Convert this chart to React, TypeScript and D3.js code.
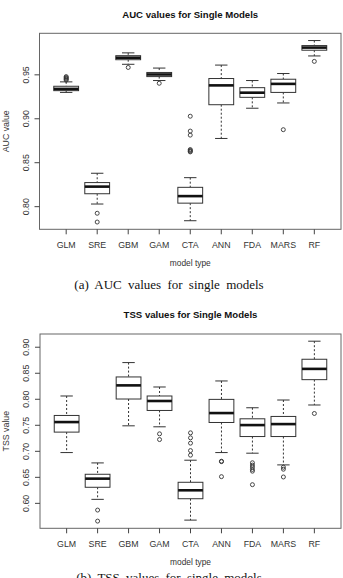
import React from "react";
import * as d3 from "d3";

// model categories (x axis)
const MODELS = ["GLM", "SRE", "GBM", "GAM", "CTA", "ANN", "FDA", "MARS", "RF"];

// AUC box statistics per model
const AUC_LOW = [0.930, 0.803, 0.962, 0.9435, 0.784, 0.8776, 0.912, 0.918, 0.9715];
const AUC_Q1 = [0.932, 0.8147, 0.9672, 0.948, 0.804, 0.916, 0.9244, 0.930, 0.978];
const AUC_MED = [0.934, 0.8228, 0.9695, 0.9504, 0.812, 0.938, 0.9297, 0.9397, 0.981];
const AUC_Q3 = [0.937, 0.8274, 0.9718, 0.9527, 0.822, 0.9458, 0.9354, 0.945, 0.9833];
const AUC_HIGH = [0.942, 0.838, 0.975, 0.9577, 0.833, 0.9611, 0.9435, 0.9515, 0.989];
const AUC_OUT = [
  [0.944, 0.945, 0.946, 0.947, 0.948],
  [0.7925, 0.7825],
  [0.9584],
  [0.9404],
  [0.9029, 0.886, 0.8814, 0.8623, 0.863, 0.864, 0.865],
  [],
  [],
  [0.8876],
  [0.9653],
];
const AUC_TICKS = [0.8, 0.85, 0.9, 0.95];

// TSS box statistics per model
const TSS_LOW = [0.6976, 0.6077, 0.749, 0.7471, 0.5678, 0.6976, 0.6964, 0.6739, 0.789];
const TSS_Q1 = [0.7369, 0.6309, 0.8005, 0.7785, 0.6089, 0.7554, 0.7284, 0.7284, 0.8377];
const TSS_MED = [0.7562, 0.6475, 0.8267, 0.7967, 0.6251, 0.7735, 0.7504, 0.7523, 0.8584];
const TSS_Q3 = [0.7689, 0.6559, 0.8429, 0.8063, 0.6405, 0.7998, 0.7625, 0.767, 0.8769];
const TSS_HIGH = [0.8063, 0.6777, 0.8705, 0.8236, 0.6829, 0.8352, 0.7837, 0.7986, 0.9116];
const TSS_OUT = [
  [],
  [0.5871, 0.5659],
  [],
  [0.7336, 0.7226],
  [0.7355, 0.7259, 0.7157, 0.7014, 0.6926],
  [0.681, 0.6802, 0.6513],
  [0.678, 0.6735, 0.6697, 0.6652, 0.6619, 0.6359],
  [0.6694, 0.6656, 0.6507],
  [0.7727],
];
const TSS_TICKS = [0.6, 0.65, 0.7, 0.75, 0.8, 0.85, 0.9];

const SANS = "'Liberation Sans', Arial, sans-serif";
const SERIF = "'Liberation Serif', 'Times New Roman', serif";
const fmt = d3.format(".2f");

type PanelProps = {
  title: string;
  yLabel: string;
  caption: string;
  low: number[];
  q1: number[];
  med: number[];
  q3: number[];
  high: number[];
  out: number[][];
  ticks: number[];
  top: number;
  bottom: number;
  left: number;
  right: number;
  titleY: number;
  captionY: number;
};

const Panel = (p: PanelProps) => {
  const all = [...p.low, ...p.high, ...p.out.flat()];
  const lo = d3.min(all) as number;
  const hi = d3.max(all) as number;
  const pad = (hi - lo) * 0.04;
  const y = d3.scaleLinear().domain([lo - pad, hi + pad]).range([p.bottom, p.top]);
  const n = MODELS.length;
  const xpad = n * 0.04;
  const x = d3.scaleLinear().domain([0.5 - xpad, n + 0.5 + xpad]).range([p.left, p.right]);
  const unit = x(2) - x(1);
  const bw = unit * 0.8;
  const sw = bw * 0.5;
  const cx = (p.left + p.right) / 2;
  const cy = (p.top + p.bottom) / 2;
  const axis = "#444";

  return (
    <g>
      <text x={cx} y={p.titleY} textAnchor="middle" fontFamily={SANS} fontWeight="bold" fontSize={9.6} fill="#111">
        {p.title}
      </text>
      <rect x={p.left} y={p.top} width={p.right - p.left} height={p.bottom - p.top} fill="none" stroke="#666" strokeWidth={1} />
      {/* y axis */}
      {p.ticks.map((t) => (
        <g key={t}>
          <line x1={p.left - 5} x2={p.left} y1={y(t)} y2={y(t)} stroke={axis} />
          <text
            transform={`translate(${p.left - 11},${y(t)}) rotate(-90)`}
            textAnchor="middle"
            fontFamily={SANS}
            fontSize={8.8}
            fill="#333"
          >
            {fmt(t)}
          </text>
        </g>
      ))}
      <text
        transform={`translate(${p.left - 31},${cy}) rotate(-90)`}
        textAnchor="middle"
        fontFamily={SANS}
        fontSize={8.8}
        fill="#333"
      >
        {p.yLabel}
      </text>
      {/* x axis */}
      {MODELS.map((m, i) => (
        <g key={m}>
          <line x1={x(i + 1)} x2={x(i + 1)} y1={p.bottom} y2={p.bottom + 5} stroke={axis} />
          <text x={x(i + 1)} y={p.bottom + 18.5} textAnchor="middle" fontFamily={SANS} fontSize={8.8} fill="#333">
            {m}
          </text>
        </g>
      ))}
      <text x={cx} y={p.bottom + 37} textAnchor="middle" fontFamily={SANS} fontSize={8.4} fill="#333">
        model type
      </text>
      {/* boxes */}
      {MODELS.map((m, i) => {
        const xc = x(i + 1);
        return (
          <g key={"b" + m} stroke="#333" fill="none">
            <line x1={xc} x2={xc} y1={y(p.high[i])} y2={y(p.q3[i])} strokeDasharray="2,2" />
            <line x1={xc} x2={xc} y1={y(p.q1[i])} y2={y(p.low[i])} strokeDasharray="2,2" />
            <line x1={xc - sw / 2} x2={xc + sw / 2} y1={y(p.high[i])} y2={y(p.high[i])} />
            <line x1={xc - sw / 2} x2={xc + sw / 2} y1={y(p.low[i])} y2={y(p.low[i])} />
            <rect x={xc - bw / 2} y={y(p.q3[i])} width={bw} height={y(p.q1[i]) - y(p.q3[i])} fill="#fff" />
            <line x1={xc - bw / 2} x2={xc + bw / 2} y1={y(p.med[i])} y2={y(p.med[i])} stroke="#111" strokeWidth={2.6} />
            {p.out[i].map((o, j) => (
              <circle key={j} cx={xc} cy={y(o)} r={2} strokeWidth={0.9} />
            ))}
          </g>
        );
      })}
      <text x={169} y={p.captionY} textAnchor="middle" fontFamily={SERIF} fontSize={13} wordSpacing={3} fill="#111">
        {p.caption}
      </text>
    </g>
  );
};

export default function App() {
  return (
    <svg width={343} height={578} style={{ display: "block", position: "absolute", left: 0, top: 0, background: "#fff" }}>
      <Panel
        title="AUC values for Single Models"
        yLabel="AUC value"
        caption="(a) AUC values for single models"
        low={AUC_LOW}
        q1={AUC_Q1}
        med={AUC_MED}
        q3={AUC_Q3}
        high={AUC_HIGH}
        out={AUC_OUT}
        ticks={AUC_TICKS}
        top={33.3}
        bottom={229.3}
        left={39.5}
        right={341}
        titleY={18.3}
        captionY={289}
      />
      <Panel
        title="TSS values for Single Models"
        yLabel="TSS value"
        caption="(b) TSS values for single models"
        low={TSS_LOW}
        q1={TSS_Q1}
        med={TSS_MED}
        q3={TSS_Q3}
        high={TSS_HIGH}
        out={TSS_OUT}
        ticks={TSS_TICKS}
        top={334}
        bottom={528.3}
        left={40}
        right={341}
        titleY={317.7}
        captionY={582}
      />
    </svg>
  );
}
